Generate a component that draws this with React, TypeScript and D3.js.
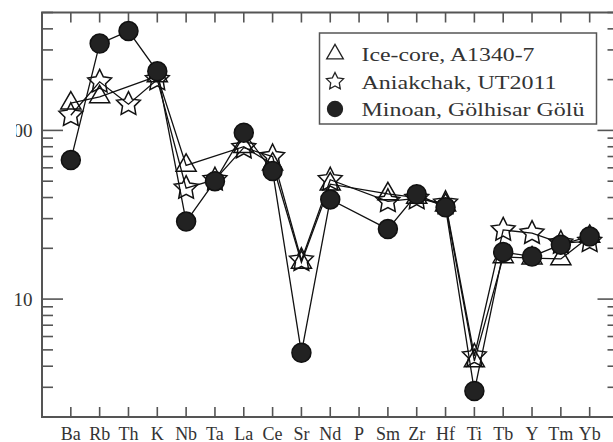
import React from 'react';
import * as d3 from 'd3';

const W = 613;
const H = 442;
const left = 42;
const right = 618.5;
const top = 12.5;
const bottom = 417;

const elements = ["Ba", "Rb", "Th", "K", "Nb", "Ta", "La", "Ce", "Sr", "Nd", "P", "Sm", "Zr", "Hf", "Ti", "Tb", "Y", "Tm", "Yb"];

// values, null = not plotted
const iceCore = [145, 158, null, 210, 62, null, 80, 63, 16.5, 48, null, 42, 40, 36, 4.3, 17.8, 17.5, 17.3, 23.5];
const aniakchak = [123, 194, 143, 200, 45.5, 51, 79, 70, 17, 51, null, 38, 39.5, 37, 4.6, 25.7, 24.6, 21.5, 22];
const minoan = [66.7, 327, 388, 224, 28.8, 50, 97, 57.4, 4.8, 39, null, 26, 41.8, 35, 2.85, 19, 17.9, 21, 23.5];

const legendLabels = ["Ice-core, A1340-7", "Aniakchak, UT2011", "Minoan, Gölhisar Gölü"];
const legendWidths = [173, 195, 223];
const yLabels = [10, 100];

const x = d3.scalePoint<string>().domain(elements).range([left, right]).padding(1);
const y = d3.scaleLog().domain([2, 500]).range([bottom, top]);

const font = 'Liberation Serif, DejaVu Serif, serif';
const frameColor = '#555';

function starPath(r: number) {
  const pts: [number, number][] = [];
  for (let i = 0; i < 10; i++) {
    const a = -Math.PI / 2 + (i * Math.PI) / 5;
    const rr = i % 2 ? r * 0.5 : r;
    pts.push([Math.cos(a) * rr, Math.sin(a) * rr]);
  }
  return 'M' + pts.map(p => p.join(',')).join('L') + 'Z';
}

const triangle = (s: number) => d3.symbol(d3.symbolTriangle, s)();
const circle = (s: number) => d3.symbol(d3.symbolCircle, s)();

const series = [
  { values: iceCore, marker: triangle(175), legend: triangle(120), fill: 'none' },
  { values: aniakchak, marker: starPath(12.5), legend: starPath(9), fill: 'none' },
  { values: minoan, marker: circle(Math.PI * 9.5 * 9.5), legend: circle(Math.PI * 7.5 * 7.5), fill: '#222' },
];

const line = d3.line<{ k: string; v: number }>()
  .x(d => x(d.k) as number)
  .y(d => y(d.v));

export default function App() {
  const yTicks = y.ticks();
  return (
    <svg width={W} height={H} viewBox={`0 0 ${W} ${H}`}
      style={{ position: 'absolute', left: 0, top: 0, background: '#fff' }}>
      <defs>
        <clipPath id="cut100">
          <rect x={16} y={0} width={100} height={H} />
        </clipPath>
      </defs>

      {/* frame */}
      <rect x={left} y={top} width={right - left} height={bottom - top}
        fill="none" stroke={frameColor} strokeWidth={2} />

      {/* x ticks top and bottom */}
      {elements.map(e => (
        <g key={e} stroke={frameColor} strokeWidth={1.6}>
          <line x1={x(e)} x2={x(e)} y1={top} y2={top + 10} />
          <line x1={x(e)} x2={x(e)} y1={bottom} y2={bottom - 10} />
        </g>
      ))}

      {/* y ticks left and right */}
      {yTicks.map(t => {
        const major = Math.abs(Math.log10(t) - Math.round(Math.log10(t))) < 1e-9;
        const len = major ? 21 : 11;
        return (
          <g key={t} stroke={frameColor} strokeWidth={1.6}>
            <line x1={left} x2={left + len} y1={y(t)} y2={y(t)} />
            <line x1={right} x2={right - len} y1={y(t)} y2={y(t)} />
          </g>
        );
      })}

      {/* y labels */}
      {yLabels.map(t => (
        <text key={t} x={32.5} y={y(t) + 6.5} textAnchor="end" style={{ fontFamily: font }}
          fontSize={19} fill="#333" clipPath={t === 100 ? 'url(#cut100)' : undefined}>
          {t}
        </text>
      ))}

      {/* x labels */}
      {elements.map(e => (
        <text key={e} x={x(e)} y={439.5} textAnchor="middle" style={{ fontFamily: font }}
          fontSize={18} fill="#333">
          {e}
        </text>
      ))}

      {/* series */}
      {series.map((s, i) => {
        const pts = elements
          .map((k, j) => ({ k, v: s.values[j] as number | null }))
          .filter(d => d.v != null) as { k: string; v: number }[];
        return (
          <g key={i}>
            <path d={line(pts) ?? ''} fill="none" stroke="#111" strokeWidth={1.3} />
            {pts.map(d => (
              <path key={d.k} d={s.marker ?? ''}
                transform={`translate(${x(d.k)},${y(d.v)})`}
                fill={s.fill} stroke="#111" strokeWidth={1.5} />
            ))}
          </g>
        );
      })}

      {/* legend */}
      <rect x={319.5} y={33} width={277} height={91} fill="#fff" stroke={frameColor} strokeWidth={1.5} />
      {series.map((s, i) => {
        const ry = 54 + i * 27.5;
        return (
          <g key={i}>
            <path d={s.legend ?? ''} transform={`translate(335,${ry})`}
              fill={s.fill} stroke="#222" strokeWidth={1.3} />
            <text x={361.5} y={ry + 7} style={{ fontFamily: font }} fontSize={19} fill="#333"
              textLength={legendWidths[i]} lengthAdjust="spacingAndGlyphs">
              {legendLabels[i]}
            </text>
          </g>
        );
      })}
    </svg>
  );
}
